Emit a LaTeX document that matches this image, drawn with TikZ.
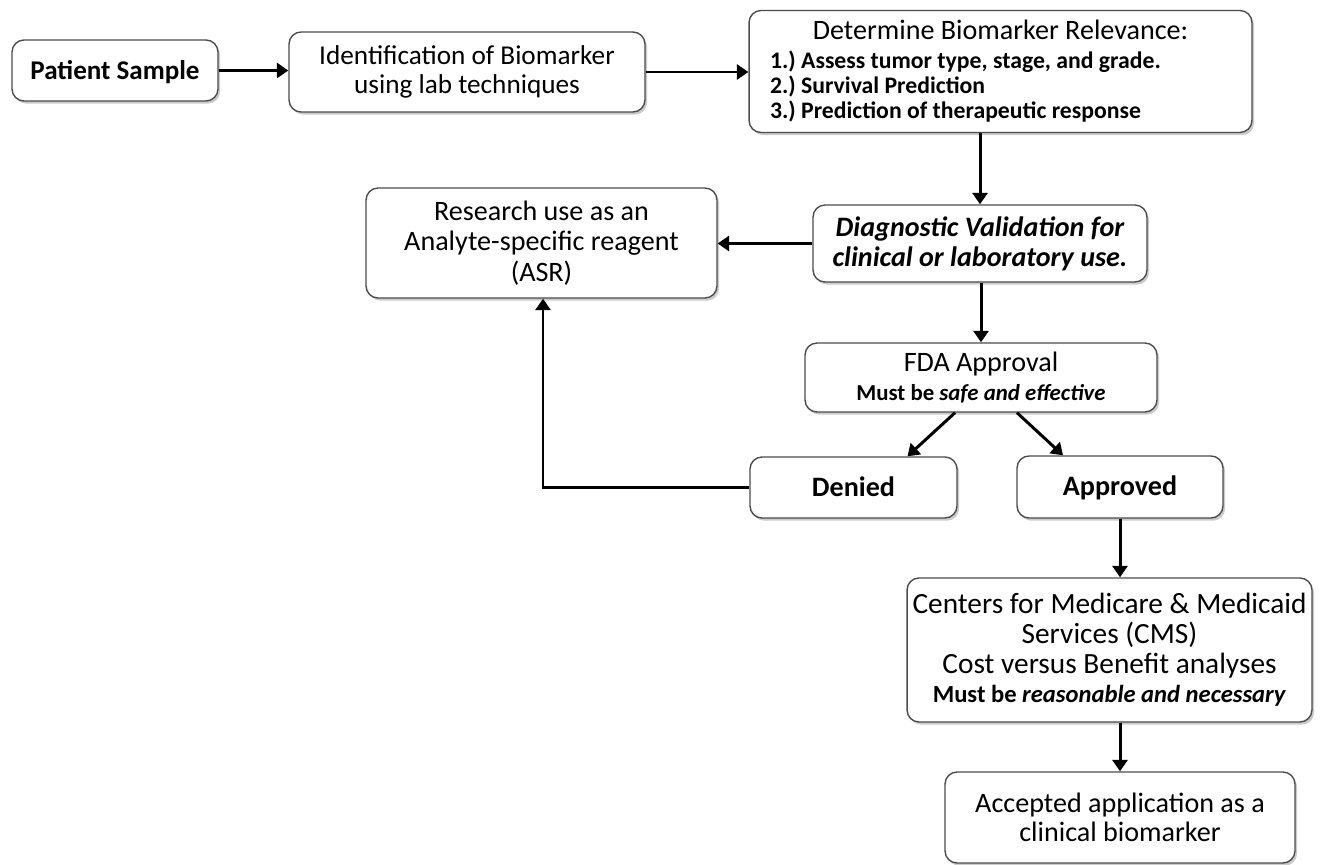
\documentclass[tikz,border=0pt]{standalone}
\usepackage{fontspec}
\setmainfont{Carlito}
\frenchspacing
\usetikzlibrary{arrows.meta,shadows,calc}
\newcommand{\bigtxt}{\fontsize{16}{16.5}\selectfont}
\newcommand{\smalltxt}{\fontsize{13}{15}\selectfont}
\begin{document}
\begin{tikzpicture}[x=0.02cm,y=-0.02cm,
  box/.style={draw=black!70, line width=0.8pt, rounded corners=0.24cm, fill=white,
    drop shadow={shadow xshift=1.2pt, shadow yshift=-1.5pt, fill=black!45, opacity=0.45},
    align=center, inner sep=2pt, font=\bigtxt},
  oneline/.style={text height=10.2pt, text depth=0pt},
  conn/.style={line width=1.7pt, -{Triangle[length=6.5pt,width=8.5pt]}}]
\useasboundingbox (0,0) rectangle (1329,865);
\fill[white] (0,0) rectangle (1329,865);

\node[box, oneline, minimum width=4.12cm, minimum height=1.22cm, font=\fontsize{15.4}{17}\selectfont\bfseries] (ps) at (115,70.5) {Patient Sample};
\node[box, minimum width=7.12cm, minimum height=1.6cm, font=\fontsize{15.5}{16.2}\selectfont] (id) at (467,72) {Identification of Biomarker\\using lab techniques};
\node[box, minimum width=10.06cm, minimum height=2.44cm, align=flush left, text width=9.22cm, inner xsep=0.42cm, font=\fontsize{13.5}{14.3}\selectfont] (det) at (1000.5,71.5)
  {\makebox[\linewidth][c]{\fontsize{16}{14.3}\selectfont Determine Biomarker Relevance:}\\[2pt]
   \bfseries 1.) Assess tumor type, stage, and grade.\\
   2.) Survival Prediction\\
   3.) Prediction of therapeutic response};
\node[box, minimum width=7.02cm, minimum height=2.2cm, font=\fontsize{16}{17.5}\selectfont] (res) at (541.5,243) {Research use as an\\Analyte-specific reagent\\(ASR)};
\node[box, minimum width=6.68cm, minimum height=1.54cm, font=\fontsize{16}{17}\selectfont\bfseries\itshape] (diag) at (980,243.5) {Diagnostic Validation for\\clinical or laboratory use.};
\node[box, minimum width=7.04cm, minimum height=1.38cm] (fda) at (981,377.5) {FDA Approval\\{\smalltxt\bfseries Must be \textit{safe and effective}}};
\node[box, oneline, minimum width=4.14cm, minimum height=1.22cm, font=\bigtxt\bfseries] (den) at (853.5,487.5) {Denied};
\node[box, oneline, minimum width=4.12cm, minimum height=1.24cm, font=\bigtxt\bfseries] (app) at (1120,487) {Approved};
\node[box, minimum width=8.1cm, minimum height=2.88cm, font=\fontsize{16.7}{16.8}\selectfont] (cms) at (1109.5,650) {Centers for Medicare \& Medicaid\\Services (CMS)\\Cost versus Benefit analyses\\{\fontsize{14}{16}\selectfont\bfseries Must be \textit{reasonable and necessary}}};
\node[box, minimum width=7.0cm, minimum height=1.82cm] (acc) at (1120,817.5) {Accepted application as a\\clinical biomarker};

\draw[conn] (ps.east) -- (ps.east -| id.west);
\draw[conn] (id.east) -- (id.east -| det.west);
\draw[conn] (diag.north |- det.south) -- (diag.north);
\draw[conn] (diag.west) -- (diag.west -| res.east);
\draw[conn] (fda.north |- diag.south) -- (fda.north);
\draw[conn] ([xshift=-0.52cm]fda.south) -- ([xshift=1.08cm]den.north);
\draw[conn] ([xshift=0.72cm]fda.south) -- ([xshift=-1.14cm]app.north);
\draw[conn] (app.south) -- (app.south |- cms.north);
\draw[conn] (acc.north |- cms.south) -- (acc.north);
\coordinate (bend) at ($(res.south)+(0.03cm,0)$);
\draw[conn] (den.west) -| (bend |- res.south);
\end{tikzpicture}
\end{document}
